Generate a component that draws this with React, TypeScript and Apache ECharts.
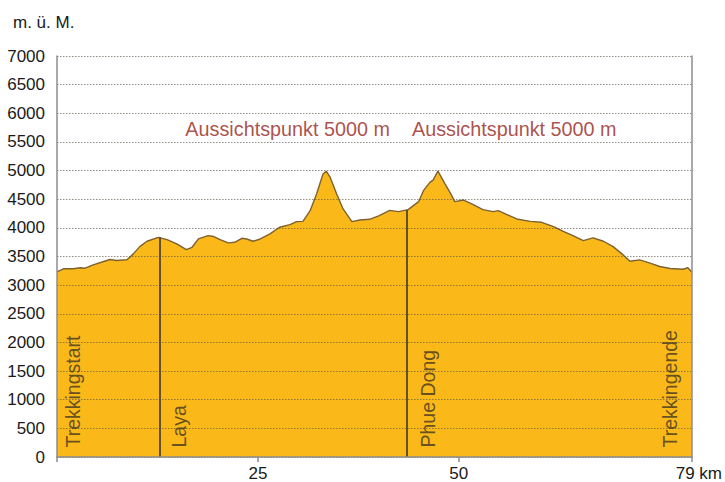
import React, { useEffect, useRef } from "react";
import * as echarts from "echarts";

// Elevation profile (km, m ü. M.)
const distanceKm = [0, 0.8, 2.0, 2.9, 3.5, 4.5, 5.8, 6.6, 7.4, 8.7, 9.5, 10.3, 11.2, 12.6, 13.7, 14.9, 16.1, 16.8, 17.6, 18.8, 19.5, 20.3, 21.3, 22.1, 23.0, 23.6, 24.4, 25.3, 26.5, 27.7, 29.0, 29.8, 30.6, 31.5, 32.3, 33.1, 33.5, 34.0, 34.8, 35.6, 36.7, 37.7, 38.9, 40.1, 41.4, 42.5, 43.7, 45.0, 45.6, 46.4, 46.8, 47.4, 48.3, 48.9, 49.5, 50.6, 51.8, 53.0, 54.3, 54.9, 56.0, 57.2, 58.9, 60.3, 61.8, 63.0, 64.2, 65.5, 66.7, 68.0, 69.2, 70.3, 71.3, 72.5, 73.8, 75.0, 76.3, 77.9, 78.5, 79];
const elevationM = [3230, 3285, 3285, 3303, 3296, 3355, 3412, 3447, 3430, 3442, 3546, 3673, 3766, 3835, 3795, 3720, 3621, 3661, 3808, 3865, 3848, 3795, 3737, 3748, 3818, 3806, 3766, 3806, 3894, 4010, 4056, 4109, 4114, 4300, 4591, 4939, 4990, 4880, 4591, 4330, 4109, 4138, 4149, 4213, 4305, 4283, 4318, 4457, 4649, 4793, 4834, 4990, 4765, 4619, 4457, 4486, 4405, 4318, 4283, 4300, 4231, 4155, 4114, 4097, 4022, 3940, 3865, 3778, 3824, 3766, 3673, 3546, 3418, 3442, 3383, 3325, 3290, 3278, 3303, 3226];

// Waypoint lines
const markerKm = [12.73, 43.58];
const markerElev = [3835, 4318];

// Rotated place labels
const placeNames = ["Trekkingstart", "Laya", "Phue Dong", "Trekkingende"];
const placeLabelKm = [2.1, 15.2, 46.2, 76.3];

// Viewpoint annotations
const viewpointText = ["Aussichtspunkt 5000 m", "Aussichtspunkt 5000 m"];
const viewpointKm = [28.7, 56.9];
const viewpointElev = [5730, 5730];

// Axes
const xLabelValues = [25, 50, 79];
const xTickValues = [0, 25, 50, 79];
const yMax = 7000;
const yStep = 500;
const yAxisTitle = "m. ü. M.";

const FONT = '"Liberation Sans", Arial, Helvetica, sans-serif';

export default function App() {
  const ref = useRef<HTMLDivElement>(null);
  useEffect(() => {
    if (!ref.current) return;
    const chart = echarts.init(ref.current, undefined, { renderer: "svg" });
    const profile = distanceKm.map((d, i) => [d, elevationM[i]]);
    chart.setOption({
      animation: false,
      backgroundColor: "#ffffff",
      title: {
        text: yAxisTitle,
        left: 8,
        top: 9,
        textStyle: { fontFamily: FONT, fontSize: 17, fontWeight: "normal", color: "#1a1a1a" },
      },
      grid: { left: 57, right: 33, top: 56, bottom: 25, containLabel: false },
      xAxis: {
        type: "value",
        min: 0,
        max: 79,
        axisLine: { show: true, lineStyle: { color: "#8c8c8c", width: 1.5 } },
        axisTick: { show: true, length: 5, customValues: xTickValues, lineStyle: { color: "#8c8c8c", width: 1.5 } },
        axisLabel: {
          customValues: xLabelValues,
          margin: 8,
          fontFamily: FONT,
          fontSize: 17,
          color: "#1a1a1a",
          formatter: (v: number) => (v === 79 ? "{e|79 km}" : String(v)),
          rich: { e: { fontFamily: FONT, fontSize: 17, color: "#1a1a1a", padding: [0, 0, 0, 14] } },
        },
        splitLine: { show: false },
        z: 5,
      },
      yAxis: [
        {
          type: "value",
          min: 0,
          max: yMax,
          interval: yStep,
          axisLine: { show: true, lineStyle: { color: "#8c8c8c", width: 1.5 } },
          axisTick: { show: false },
          axisLabel: {
            margin: 12,
            fontFamily: FONT,
            fontSize: 17,
            color: "#1a1a1a",
            formatter: (v: number) => String(v),
          },
          splitLine: { show: true, lineStyle: { color: "rgba(90,80,65,0.65)", type: [1.5, 1.5], width: 1 } },
          z: 5,
        },
        {
          type: "value",
          position: "right",
          min: 0,
          max: yMax,
          interval: yStep,
          axisLine: { show: true, lineStyle: { color: "#8c8c8c", width: 1.5 } },
          axisTick: { show: false },
          axisLabel: { show: false },
          splitLine: { show: false },
          z: 5,
        },
      ],
      series: [
        {
          type: "line",
          data: profile,
          symbol: "none",
          smooth: false,
          lineStyle: { color: "#7d6230", width: 1.4 },
          areaStyle: { color: "#fbb919", opacity: 1 },
          z: 2,
          markLine: {
            silent: true,
            symbol: "none",
            label: { show: false },
            lineStyle: { color: "#4a3f2c", width: 1.7, type: "solid" },
            data: markerKm.map((k, i) => [{ coord: [k, 0] }, { coord: [k, markerElev[i]] }]),
          },
        },
        {
          type: "scatter",
          data: placeLabelKm.map((k, i) => ({ value: [k, 0], name: placeNames[i] })),
          symbolSize: 1,
          itemStyle: { color: "transparent" },
          silent: true,
          z: 6,
          label: {
            show: true,
            formatter: (p: any) => p.name,
            position: [0, -9],
            rotate: 90,
            align: "left",
            verticalAlign: "middle",
            fontFamily: FONT,
            fontSize: 19.5,
            color: "#3e3524",
          },
        },
        {
          type: "scatter",
          data: viewpointKm.map((k, i) => ({ value: [k, viewpointElev[i]], name: viewpointText[i] })),
          symbolSize: 1,
          itemStyle: { color: "transparent" },
          silent: true,
          z: 6,
          label: {
            show: true,
            formatter: (p: any) => p.name,
            position: "inside",
            align: "center",
            verticalAlign: "middle",
            fontFamily: FONT,
            fontSize: 19.8,
            color: "#962419",
          },
        },
      ],
    });
    return () => chart.dispose();
  }, []);
  return (
    <div
      ref={ref}
      style={{ position: "fixed", left: 0, top: 0, width: 725, height: 482 }}
    />
  );
}
